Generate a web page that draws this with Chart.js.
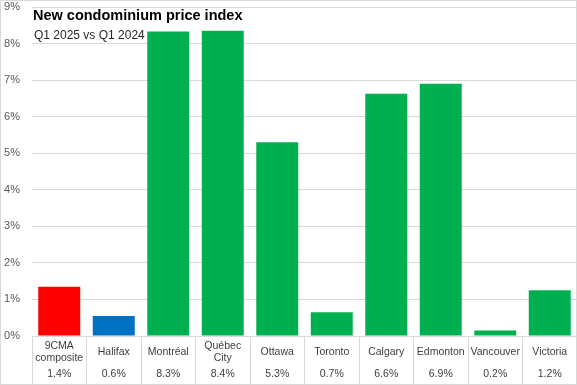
<!DOCTYPE html>
<html lang="en">
<head>
    <meta charset="UTF-8">
    <title>New condominium price index</title>
    <script src="https://cdn.jsdelivr.net/npm/chart.js"></script>
    <style>
        body {
            margin: 0;
            background: #fff;
        }
    </style>
</head>
<body>
    <canvas id="graph" width="577" height="385"></canvas>

    <script>
        const titleText = "New condominium price index";
        const subtitleText = "Q1 2025 vs Q1 2024";

        const cities = [["9CMA", "composite"], ["Halifax"], ["Montréal"], ["Québec", "City"], ["Ottawa"],
            ["Toronto"], ["Calgary"], ["Edmonton"], ["Vancouver"], ["Victoria"]];
        const changes = [1.35, 0.55, 8.33, 8.35, 5.3, 0.65, 6.63, 6.9, 0.15, 1.25];
        const changeLabels = ["1.4%", "0.6%", "8.3%", "8.4%", "5.3%", "0.7%", "6.6%", "6.9%", "0.2%", "1.2%"];
        const barColors = ["#ff0000", "#0070c0", "#00b050", "#00b050", "#00b050",
            "#00b050", "#00b050", "#00b050", "#00b050", "#00b050"];

        const FONT = "'Liberation Sans', Arial, sans-serif";

        // draws title, the table under the axis and the frame
        const extras = {
            id: 'extras',
            afterDraw(chart) {
                const ctx = chart.ctx;
                const x = chart.scales.x;
                ctx.save();

                ctx.fillStyle = '#000';
                ctx.textAlign = 'left';
                ctx.textBaseline = 'middle';
                ctx.font = "bold 14.5px " + FONT;
                ctx.fillText(titleText, 33, 16);
                ctx.fillStyle = '#262626';
                ctx.font = "12px " + FONT;
                ctx.fillText(subtitleText, 34, 36);

                ctx.fillStyle = '#404040';
                ctx.textAlign = 'center';
                ctx.font = "10.5px " + FONT;
                cities.forEach((lines, i) => {
                    const cx = x.getPixelForTick(i);
                    const mid = 352;
                    lines.forEach((t, j) => {
                        ctx.fillText(t, cx, mid + (j - (lines.length - 1) / 2) * 12);
                    });
                    ctx.fillText(changeLabels[i], cx, 374);
                });

                ctx.strokeStyle = '#d9d9d9';
                ctx.lineWidth = 1;
                ctx.strokeRect(0.5, 0.5, 576, 384);
                ctx.restore();
            }
        };

        window.onload = function() {
            let ctx = document.getElementById('graph').getContext('2d');
            new Chart(ctx, {
                type: 'bar',
                data: {
                    labels: cities,
                    datasets: [{
                        data: changes,
                        backgroundColor: barColors,
                        barPercentage: 0.77,
                        categoryPercentage: 1.0
                    }]
                },
                options: {
                    responsive: false,
                    animation: false,
                    layout: { padding: 0 },
                    plugins: {
                        legend: { display: false },
                        tooltip: { enabled: false }
                    },
                    scales: {
                        x: {
                            afterFit: s => { s.height = 49; },
                            ticks: { display: false },
                            grid: {
                                offset: true,
                                drawOnChartArea: false,
                                tickLength: 48,
                                color: '#d9d9d9'
                            },
                            border: { color: '#d9d9d9' }
                        },
                        y: {
                            min: 0,
                            max: 9,
                            afterFit: s => { s.width = 32; s.paddingTop = 7; },
                            ticks: {
                                stepSize: 1,
                                padding: 12,
                                color: '#595959',
                                font: { family: FONT, size: 11 },
                                callback: v => v + '%'
                            },
                            grid: { color: '#d9d9d9', drawTicks: false },
                            border: { display: false }
                        }
                    }
                },
                plugins: [extras]
            });
        };
    </script>
</body>
</html>
